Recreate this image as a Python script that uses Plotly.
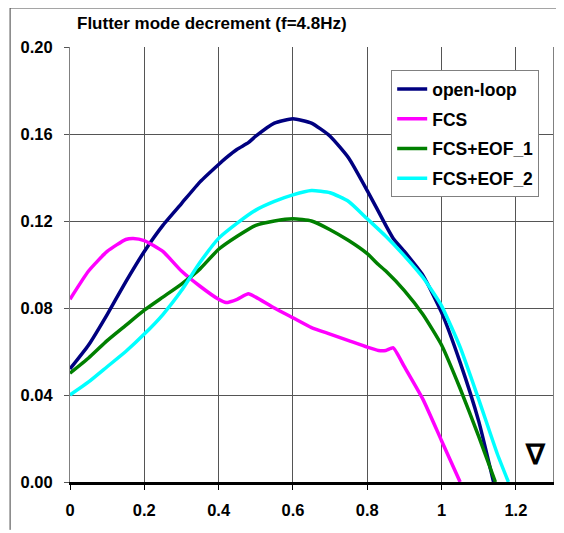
import plotly.graph_objects as go

x_open = [0, 0.05, 0.1, 0.15, 0.2, 0.25, 0.3, 0.35, 0.4, 0.42, 0.45, 0.48, 0.5, 0.55, 0.6, 0.65, 0.7, 0.75, 0.8, 0.85, 0.87, 0.9, 0.95, 1.0, 1.05, 1.1, 1.14]
y_open = [0.052, 0.063, 0.077, 0.092, 0.106, 0.118, 0.128, 0.138, 0.146, 0.149, 0.153, 0.156, 0.159, 0.165, 0.167, 0.165, 0.159, 0.149, 0.134, 0.118, 0.112, 0.106, 0.095, 0.078, 0.055, 0.028, 0.0]

x_fcs = [0, 0.05, 0.1, 0.15, 0.17, 0.2, 0.25, 0.3, 0.35, 0.4, 0.42, 0.45, 0.48, 0.5, 0.55, 0.6, 0.65, 0.7, 0.75, 0.8, 0.83, 0.85, 0.87, 0.9, 0.95, 1.0, 1.05]
y_fcs = [0.084, 0.097, 0.106, 0.1115, 0.112, 0.111, 0.106, 0.097, 0.090, 0.084, 0.0825, 0.084, 0.0865, 0.085, 0.080, 0.0755, 0.071, 0.068, 0.065, 0.062, 0.0605, 0.0605, 0.0617, 0.053, 0.038, 0.019, 0.0]

x_eof1 = [0, 0.05, 0.1, 0.15, 0.2, 0.25, 0.3, 0.35, 0.4, 0.45, 0.5, 0.55, 0.6, 0.65, 0.7, 0.75, 0.8, 0.83, 0.85, 0.9, 0.95, 1.0, 1.05, 1.1, 1.145]
y_eof1 = [0.050, 0.057, 0.065, 0.072, 0.079, 0.085, 0.091, 0.098, 0.107, 0.113, 0.118, 0.120, 0.121, 0.120, 0.116, 0.111, 0.105, 0.100, 0.097, 0.088, 0.077, 0.063, 0.043, 0.021, 0.0]

x_eof2 = [0, 0.05, 0.1, 0.15, 0.2, 0.25, 0.3, 0.35, 0.4, 0.45, 0.5, 0.55, 0.6, 0.65, 0.7, 0.75, 0.8, 0.85, 0.9, 0.95, 1.0, 1.05, 1.1, 1.15, 1.18]
y_eof2 = [0.040, 0.046, 0.053, 0.060, 0.068, 0.077, 0.088, 0.101, 0.112, 0.119, 0.125, 0.129, 0.132, 0.134, 0.133, 0.129, 0.121, 0.113, 0.104, 0.094, 0.081, 0.062, 0.038, 0.013, 0.0]

series = [
    ("open-loop", x_open, y_open, "#000080"),
    ("FCS", x_fcs, y_fcs, "#FF00FF"),
    ("FCS+EOF_1", x_eof1, y_eof1, "#008000"),
    ("FCS+EOF_2", x_eof2, y_eof2, "#00FFFF"),
]

x_ticks = [0, 0.2, 0.4, 0.6, 0.8, 1.0, 1.2]
x_tick_labels = ["0", "0.2", "0.4", "0.6", "0.8", "1", "1.2"]
y_ticks = [0, 0.04, 0.08, 0.12, 0.16, 0.20]
y_tick_labels = ["0.00", "0.04", "0.08", "0.12", "0.16", "0.20"]

fig = go.Figure()
for i, (name, xs, ys, col) in enumerate(series):
    fig.add_trace(go.Scatter(x=xs, y=ys, name=name, mode="lines",
                             line=dict(color=col, width=3.5, shape="spline", smoothing=0.5),
                             legendgroup=f"g{i}"))

font_main = "Arial, Liberation Sans, sans-serif"

fig.update_layout(
    width=556, height=525,
    margin=dict(l=62, r=11, t=39, b=51),
    plot_bgcolor="white", paper_bgcolor="white",
    font=dict(family=font_main, size=16, color="black"),
    showlegend=True,
    legend=dict(x=0.665, y=0.947, xanchor="left", yanchor="top",
                bgcolor="white", bordercolor="#808080", borderwidth=1,
                font=dict(family=font_main, size=17.5, color="black", weight="bold"),
                tracegroupgap=4, traceorder="grouped", itemwidth=30),
    xaxis=dict(range=[0, 1.3], tickvals=x_ticks, ticktext=x_tick_labels,
               showgrid=True, gridcolor="#555555", gridwidth=1,
               showline=True, linecolor="black", linewidth=3,
               ticks="outside", ticklen=5, tickcolor="black",
               ticklabelstandoff=6,
               tickfont=dict(family=font_main, size=16.5, weight="bold"),
               zeroline=False),
    yaxis=dict(range=[0, 0.2], tickvals=y_ticks, ticktext=y_tick_labels,
               showgrid=True, gridcolor="#555555", gridwidth=1,
               showline=True, linecolor="#808080", linewidth=1, mirror=True,
               ticks="outside", ticklen=5, tickcolor="#555555",
               ticklabelstandoff=8,
               tickfont=dict(family=font_main, size=16.5, weight="bold"),
               zeroline=False),
)

fig.add_annotation(text="Flutter mode decrement (f=4.8Hz)", xref="paper", yref="paper",
                   x=0.01, y=1.055, xanchor="left", yanchor="middle", showarrow=False,
                   font=dict(family=font_main, size=17, color="black", weight="bold"))
fig.add_annotation(text="∇", xref="paper", yref="paper",
                   x=0.963, y=0.063, xanchor="center", yanchor="middle", showarrow=False,
                   font=dict(family=font_main, size=28, color="black", weight="bold"))

# outer frame (top and left)
fig.add_shape(type="line", xref="paper", yref="paper", x0=-0.124, x1=1.03, y0=1.0897, y1=1.0897,
              line=dict(color="#404040", width=1))
fig.add_shape(type="line", xref="paper", yref="paper", x0=-0.124, x1=-0.124, y0=1.0897, y1=-0.11,
              line=dict(color="#404040", width=1))

fig.write_html("out.html")
